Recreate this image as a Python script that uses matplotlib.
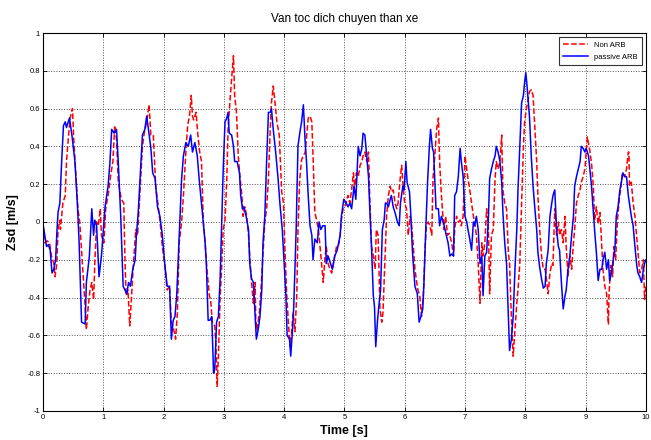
import numpy as np
import matplotlib
matplotlib.use("Agg")
import matplotlib.pyplot as plt

plt.rcParams['font.family'] = ['Liberation Sans', 'DejaVu Sans']

# passive ARB (blue, solid)
t_passive = [0.00, 0.06, 0.09, 0.12, 0.15, 0.18, 0.21, 0.23, 0.25, 0.28, 0.31, 0.34, 0.37, 0.39, 0.44,
             0.48, 0.53, 0.57, 0.60, 0.64, 0.70, 0.72, 0.77, 0.81, 0.84, 0.86, 0.89, 0.93, 0.97, 1.03,
             1.08, 1.11, 1.14, 1.18, 1.22, 1.25, 1.29, 1.33, 1.39, 1.42, 1.45, 1.49, 1.53, 1.55, 1.58,
             1.62, 1.65, 1.69, 1.72, 1.75, 1.79, 1.82, 1.86, 1.90, 1.94, 1.98, 2.02, 2.06, 2.10, 2.13,
             2.16, 2.19, 2.22, 2.26, 2.30, 2.33, 2.37, 2.41, 2.45, 2.48, 2.52, 2.56, 2.59, 2.65, 2.69,
             2.71, 2.74, 2.77, 2.80, 2.83, 2.85, 2.88, 2.91, 2.94, 2.96, 2.99, 3.02, 3.05, 3.07, 3.09,
             3.13, 3.16, 3.18, 3.22, 3.26, 3.28, 3.31, 3.33, 3.37, 3.41, 3.43, 3.46, 3.49, 3.52, 3.54,
             3.57, 3.60, 3.63, 3.65, 3.68, 3.71, 3.74, 3.77, 3.79, 3.82, 3.86, 3.90, 3.93, 3.97, 4.00,
             4.03, 4.05, 4.09, 4.11, 4.14, 4.16, 4.20, 4.23, 4.26, 4.29, 4.32, 4.35, 4.37, 4.40, 4.43,
             4.46, 4.48, 4.51, 4.55, 4.58, 4.61, 4.64, 4.68, 4.70, 4.73, 4.77, 4.80, 4.84, 4.88, 4.93,
             4.95, 4.99, 5.03, 5.06, 5.09, 5.12, 5.16, 5.19, 5.23, 5.26, 5.29, 5.31, 5.34, 5.37, 5.40,
             5.42, 5.45, 5.48, 5.50, 5.52, 5.55, 5.57, 5.60, 5.63, 5.66, 5.68, 5.70, 5.73, 5.76, 5.78,
             5.81, 5.84, 5.88, 5.91, 5.93, 5.97, 5.99, 6.02, 6.04, 6.08, 6.10, 6.13, 6.17, 6.21, 6.24,
             6.27, 6.30, 6.32, 6.35, 6.38, 6.41, 6.43, 6.46, 6.48, 6.52, 6.56, 6.58, 6.61, 6.64, 6.67,
             6.69, 6.72, 6.75, 6.78, 6.81, 6.83, 6.86, 6.89, 6.92, 6.94, 6.97, 7.00, 7.03, 7.05, 7.08,
             7.11, 7.14, 7.16, 7.19, 7.22, 7.25, 7.28, 7.30, 7.33, 7.36, 7.39, 7.41, 7.44, 7.47, 7.50,
             7.52, 7.55, 7.58, 7.61, 7.63, 7.66, 7.69, 7.72, 7.74, 7.77, 7.80, 7.83, 7.86, 7.88, 7.91,
             7.94, 7.97, 7.99, 8.01, 8.03, 8.07, 8.10, 8.13, 8.16, 8.19, 8.21, 8.24, 8.27, 8.30, 8.33,
             8.35, 8.38, 8.41, 8.44, 8.46, 8.49, 8.52, 8.55, 8.57, 8.60, 8.63, 8.66, 8.68, 8.71, 8.74,
             8.77, 8.80, 8.82, 8.85, 8.88, 8.91, 8.93, 8.96, 8.99, 9.01, 9.05, 9.10, 9.13, 9.15, 9.18,
             9.21, 9.24, 9.27, 9.29, 9.32, 9.35, 9.38, 9.40, 9.43, 9.46, 9.49, 9.51, 9.54, 9.57, 9.60,
             9.62, 9.65, 9.68, 9.71, 9.76, 9.79, 9.82, 9.85, 9.87, 9.90, 9.93, 9.96, 9.98, 10.0]
v_passive = [-0.01, -0.13, -0.12, -0.15, -0.27, -0.25, -0.20, -0.06, 0.05, 0.10, 0.32, 0.51, 0.53, 0.50, 0.55,
             0.46, 0.32, 0.10, -0.11, -0.53, -0.54, -0.32, -0.18, 0.07, -0.07, 0.01, -0.02, -0.29, -0.18, 0.08,
             0.19, 0.31, 0.49, 0.47, 0.49, 0.31, 0.03, -0.34, -0.38, -0.32, -0.34, -0.25, -0.20, -0.07, 0.05,
             0.28, 0.46, 0.49, 0.56, 0.49, 0.39, 0.26, 0.23, 0.08, 0.03, -0.07, -0.22, -0.34, -0.34, -0.62,
             -0.52, -0.50, -0.38, -0.07, 0.23, 0.35, 0.42, 0.40, 0.46, 0.37, 0.42, 0.35, 0.23, 0.03, -0.11,
             -0.22, -0.52, -0.52, -0.50, -0.80, -0.78, -0.53, -0.50, -0.29, -0.07, 0.28, 0.53, 0.55, 0.58, 0.47,
             0.46, 0.40, 0.32, 0.32, 0.26, 0.14, 0.07, 0.08, 0.03, -0.04, -0.22, -0.30, -0.32, -0.50, -0.62,
             -0.57, -0.50, -0.36, -0.11, 0.03, 0.32, 0.58, 0.58, 0.60, 0.49, 0.37, 0.23, 0.10, -0.04, -0.22,
             -0.39, -0.60, -0.62, -0.71, -0.57, -0.45, -0.04, 0.40, 0.47, 0.53, 0.62, 0.42, 0.33, 0.14, -0.02,
             -0.07, -0.20, -0.09, -0.11, 0.00, -0.04, -0.02, -0.02, -0.22, -0.18, -0.22, -0.25, -0.18, -0.15, -0.07,
             0.03, 0.12, 0.10, 0.08, 0.10, 0.07, 0.19, 0.12, 0.40, 0.35, 0.39, 0.47, 0.46, 0.35, 0.24,
             0.08, -0.13, -0.39, -0.45, -0.66, -0.52, -0.45, -0.36, -0.04, 0.01, 0.10, 0.10, 0.08, 0.12, 0.14,
             0.08, 0.05, 0.00, -0.02, 0.10, 0.19, 0.17, 0.32, 0.21, 0.16, 0.05, -0.16, -0.34, -0.38, -0.53,
             -0.50, -0.46, -0.32, -0.04, 0.21, 0.40, 0.49, 0.39, 0.37, 0.07, 0.07, -0.02, 0.03, 0.00, -0.04,
             -0.07, -0.11, -0.18, -0.17, -0.18, 0.14, 0.16, 0.24, 0.39, 0.32, 0.24, 0.03, 0.00, -0.04, -0.09,
             -0.15, 0.00, -0.02, 0.03, -0.04, -0.22, -0.18, -0.39, -0.18, -0.16, 0.03, 0.23, 0.28, 0.32, 0.35,
             0.40, 0.37, 0.32, 0.21, 0.05, -0.11, -0.22, -0.50, -0.68, -0.62, -0.50, -0.25, -0.04, 0.17, 0.40,
             0.63, 0.67, 0.74, 0.79, 0.72, 0.56, 0.35, 0.19, 0.07, -0.04, -0.16, -0.24, -0.30, -0.35, -0.34,
             -0.22, -0.15, 0.03, 0.10, 0.14, 0.17, -0.04, -0.13, -0.15, -0.32, -0.46, -0.39, -0.36, -0.25, -0.18,
             -0.07, 0.03, 0.19, 0.24, 0.28, 0.32, 0.40, 0.39, 0.37, 0.39, 0.35, 0.19, 0.05, -0.04, -0.16,
             -0.31, -0.25, -0.25, -0.20, -0.16, -0.25, -0.20, -0.31, -0.27, -0.20, -0.13, 0.03, 0.08, 0.17, 0.22,
             0.26, 0.24, 0.24, 0.14, 0.03, -0.02, -0.13, -0.23, -0.27, -0.29, -0.32, -0.25, -0.22, -0.20]

# Non ARB (red, dashed)
t_non = [0.00, 0.03, 0.07, 0.11, 0.14, 0.18, 0.20, 0.23, 0.25, 0.28, 0.29, 0.33, 0.37, 0.39, 0.42,
         0.45, 0.49, 0.51, 0.55, 0.58, 0.61, 0.66, 0.70, 0.72, 0.75, 0.78, 0.81, 0.84, 0.86, 0.89,
         0.92, 0.95, 0.97, 1.01, 1.04, 1.08, 1.12, 1.16, 1.19, 1.22, 1.25, 1.30, 1.34, 1.36, 1.38,
         1.41, 1.44, 1.47, 1.50, 1.54, 1.57, 1.61, 1.65, 1.68, 1.72, 1.76, 1.79, 1.83, 1.87, 1.94,
         1.98, 2.02, 2.06, 2.10, 2.13, 2.17, 2.20, 2.23, 2.26, 2.30, 2.33, 2.37, 2.40, 2.43, 2.46,
         2.48, 2.50, 2.54, 2.57, 2.60, 2.63, 2.66, 2.69, 2.72, 2.76, 2.78, 2.81, 2.85, 2.87, 2.89,
         2.91, 2.94, 2.96, 2.99, 3.02, 3.05, 3.07, 3.10, 3.13, 3.16, 3.18, 3.21, 3.24, 3.27, 3.30,
         3.32, 3.35, 3.38, 3.41, 3.43, 3.46, 3.49, 3.52, 3.53, 3.55, 3.59, 3.61, 3.64, 3.68, 3.71,
         3.74, 3.77, 3.79, 3.82, 3.85, 3.88, 3.92, 3.96, 3.99, 4.01, 4.04, 4.07, 4.10, 4.12, 4.15,
         4.18, 4.21, 4.23, 4.26, 4.29, 4.32, 4.35, 4.37, 4.40, 4.43, 4.46, 4.48, 4.51, 4.54, 4.57,
         4.59, 4.62, 4.65, 4.68, 4.70, 4.73, 4.76, 4.79, 4.82, 4.84, 4.87, 4.90, 4.93, 4.95, 4.98,
         5.01, 5.04, 5.06, 5.09, 5.12, 5.15, 5.17, 5.20, 5.23, 5.26, 5.29, 5.31, 5.34, 5.37, 5.40,
         5.42, 5.45, 5.48, 5.51, 5.53, 5.56, 5.59, 5.62, 5.64, 5.67, 5.70, 5.73, 5.76, 5.78, 5.81,
         5.84, 5.87, 5.89, 5.92, 5.95, 5.98, 6.00, 6.03, 6.06, 6.09, 6.11, 6.14, 6.17, 6.20, 6.22,
         6.25, 6.28, 6.31, 6.34, 6.36, 6.39, 6.42, 6.45, 6.47, 6.50, 6.53, 6.56, 6.58, 6.61, 6.63,
         6.65, 6.68, 6.71, 6.74, 6.78, 6.81, 6.83, 6.86, 6.89, 6.92, 6.94, 6.97, 7.00, 7.03, 7.05,
         7.08, 7.11, 7.14, 7.16, 7.19, 7.22, 7.25, 7.28, 7.30, 7.33, 7.36, 7.39, 7.41, 7.44, 7.47,
         7.50, 7.52, 7.55, 7.58, 7.61, 7.63, 7.66, 7.69, 7.72, 7.74, 7.77, 7.80, 7.83, 7.86, 7.88,
         7.91, 7.94, 7.97, 7.99, 8.02, 8.05, 8.07, 8.10, 8.13, 8.16, 8.19, 8.21, 8.24, 8.27, 8.30,
         8.33, 8.35, 8.38, 8.41, 8.44, 8.46, 8.49, 8.52, 8.55, 8.57, 8.60, 8.63, 8.66, 8.68, 8.71,
         8.74, 8.77, 8.80, 8.82, 8.85, 8.88, 8.91, 8.93, 8.96, 8.99, 9.03, 9.07, 9.10, 9.13, 9.15,
         9.18, 9.21, 9.24, 9.27, 9.29, 9.32, 9.35, 9.38, 9.39, 9.42, 9.45, 9.47, 9.50, 9.53, 9.56,
         9.59, 9.61, 9.65, 9.68, 9.71, 9.72, 9.73, 9.76, 9.79, 9.82, 9.85, 9.87, 9.90, 9.93, 9.96,
         9.98, 10.0]
v_non = [-0.02, -0.11, -0.10, -0.11, -0.18, -0.22, -0.29, -0.22, -0.04, 0.01, -0.04, 0.10, 0.14, 0.32, 0.44,
         0.55, 0.60, 0.44, 0.23, 0.07, 0.00, -0.25, -0.45, -0.57, -0.45, -0.36, -0.32, -0.41, -0.22, 0.00,
         -0.02, 0.07, -0.07, -0.11, 0.07, 0.14, 0.24, 0.32, 0.51, 0.44, 0.21, 0.12, 0.10, -0.20, -0.39,
         -0.36, -0.55, -0.39, -0.22, -0.04, -0.07, 0.17, 0.40, 0.47, 0.53, 0.62, 0.46, 0.46, 0.19, 0.01,
         -0.13, -0.23, -0.36, -0.34, -0.53, -0.57, -0.62, -0.48, -0.11, 0.00, 0.14, 0.37, 0.51, 0.56, 0.67,
         0.56, 0.54, 0.58, 0.46, 0.37, 0.32, 0.00, -0.11, -0.25, -0.39, -0.41, -0.53, -0.55, -0.66, -0.87,
         -0.71, -0.39, -0.27, -0.04, 0.01, 0.23, 0.49, 0.63, 0.76, 0.88, 0.67, 0.58, 0.35, 0.23, 0.14,
         0.03, 0.08, 0.03, -0.07, -0.18, -0.32, -0.43, -0.32, -0.52, -0.57, -0.48, -0.39, -0.22, 0.00, 0.07,
         0.23, 0.49, 0.63, 0.72, 0.63, 0.53, 0.46, 0.16, 0.10, -0.11, -0.36, -0.53, -0.66, -0.60, -0.48,
         -0.58, -0.39, -0.04, 0.23, 0.33, 0.35, 0.37, 0.44, 0.55, 0.56, 0.53, 0.35, 0.05, 0.01, -0.04,
         -0.11, -0.22, -0.32, -0.18, -0.13, -0.22, -0.25, -0.27, -0.22, -0.18, -0.13, -0.13, -0.07, 0.01, 0.07,
         0.08, 0.12, 0.14, 0.10, 0.17, 0.26, 0.19, 0.26, 0.24, 0.30, 0.32, 0.35, 0.37, 0.32, 0.37,
         0.14, -0.13, -0.18, -0.25, -0.04, -0.07, -0.46, -0.53, -0.48, -0.22, 0.03, 0.14, 0.19, 0.16, 0.17,
         0.10, 0.07, 0.10, 0.21, 0.30, 0.17, 0.10, 0.07, -0.07, 0.03, 0.00, -0.11, -0.25, -0.32, -0.36,
         -0.39, -0.50, -0.39, -0.13, -0.02, 0.00, -0.02, -0.07, 0.23, 0.35, 0.49, 0.55, 0.32, 0.14, 0.05,
         -0.04, 0.03, -0.07, -0.06, -0.11, -0.18, -0.04, 0.03, 0.00, 0.01, -0.02, 0.03, 0.35, 0.28, 0.23,
         0.17, 0.10, 0.03, 0.00, -0.07, -0.22, -0.43, -0.11, -0.18, -0.11, 0.07, -0.04, -0.38, -0.07, -0.04,
         0.23, 0.32, 0.28, 0.32, 0.46, 0.17, 0.10, 0.07, -0.16, -0.22, -0.50, -0.71, -0.57, -0.43, -0.36,
         -0.22, 0.10, 0.40, 0.53, 0.60, 0.65, 0.69, 0.70, 0.67, 0.49, 0.32, 0.14, -0.04, -0.18, -0.25,
         -0.25, -0.30, -0.38, -0.27, -0.22, -0.23, 0.07, -0.07, 0.00, -0.07, -0.04, -0.11, 0.03, -0.13, -0.29,
         -0.18, -0.25, -0.11, -0.04, 0.10, 0.14, 0.17, 0.21, 0.24, 0.28, 0.45, 0.38, 0.31, 0.19, 0.01,
         0.08, -0.01, 0.05, -0.13, -0.25, -0.34, -0.38, -0.54, -0.38, -0.23, -0.29, -0.13, -0.20, 0.01, 0.12,
         0.19, 0.26, 0.24, 0.28, 0.37, 0.37, 0.19, 0.21, 0.10, 0.03, -0.08, -0.16, -0.27, -0.25, -0.20,
         -0.41, -0.34]

x_ticks = list(range(0, 11))
y_ticks = [-1, -0.8, -0.6, -0.4, -0.2, 0, 0.2, 0.4, 0.6, 0.8, 1]
y_tick_labels = ['-1', '-0.8', '-0.6', '-0.4', '-0.2', '0', '0.2', '0.4', '0.6', '0.8', '1']

fig = plt.figure(figsize=(6.51, 4.40), dpi=100)
ax = fig.add_axes([0.066, 0.066, 0.926, 0.859])

ax.plot(t_non, v_non, color='red', linestyle='--', linewidth=1.1, label='Non ARB')
ax.plot(t_passive, v_passive, color='blue', linestyle='-', linewidth=1.1, label='passive ARB')

ax.set_xlim(0, 10)
ax.set_ylim(-1, 1)
ax.set_xticks(x_ticks)
ax.set_yticks(y_ticks)
ax.set_yticklabels(y_tick_labels)
ax.tick_params(direction='in', labelsize=5.5, length=3, width=0.6, top=True, right=True, pad=2)
ax.grid(True, linestyle=':', color='#555555', linewidth=0.7)
for s in ax.spines.values():
    s.set_linewidth(0.8)

ax.set_title('Van toc dich chuyen than xe', fontsize=8.5, pad=8)
ax.set_xlabel('Time [s]', fontsize=9, fontweight='bold', labelpad=3)
ax.set_ylabel('Zsd [m/s]', fontsize=9, fontweight='bold', labelpad=6)

leg = ax.legend(loc='upper right', fontsize=5.5, fancybox=False, framealpha=1,
                edgecolor='#333333', handlelength=3.2, borderpad=0.6, labelspacing=0.6,
                borderaxespad=0.5)
leg.get_frame().set_linewidth(0.8)

fig.savefig('out.png', dpi=100)
